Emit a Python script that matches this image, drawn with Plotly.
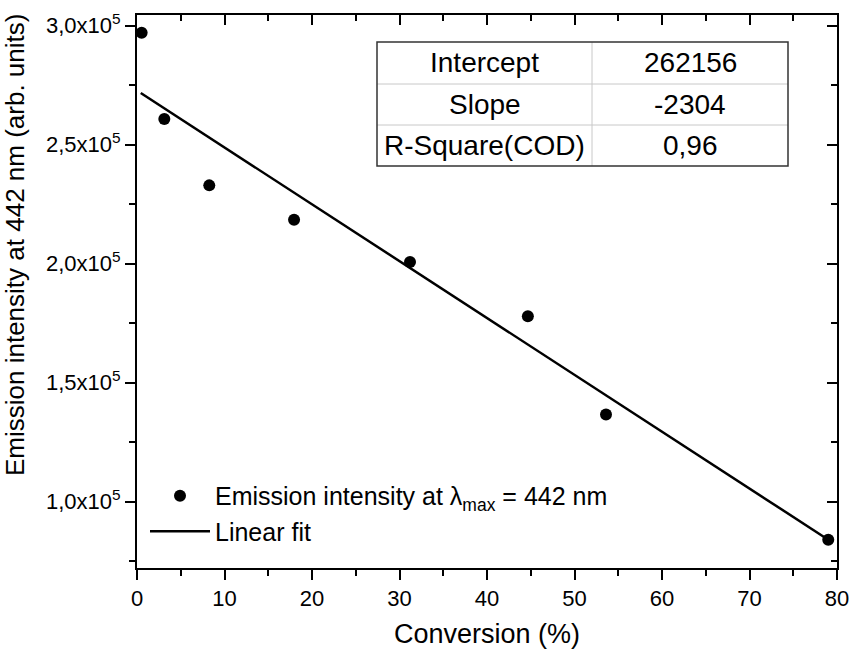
import plotly.graph_objects as go

# ---- data ----
conversion = [0.53, 3.12, 8.26, 17.95, 31.2, 44.67, 53.6, 79.0]
intensity = [297060, 260760, 232900, 218500, 200700, 177900, 136600, 84000]
fit_x = [0.43, 79.0]
fit_y = [271700, 84000]

y_tickvals = [100000, 150000, 200000, 250000, 300000]
y_ticktext = ["1,0x10<sup>5</sup>", "1,5x10<sup>5</sup>", "2,0x10<sup>5</sup>",
              "2,5x10<sup>5</sup>", "3,0x10<sup>5</sup>"]
x_tickvals = [0, 10, 20, 30, 40, 50, 60, 70, 80]

table_labels = ["Intercept", "Slope", "R-Square(COD)"]
table_values = ["262156", "-2304", "0,96"]

XR = [0, 80]
YR = [72100, 304500]

FONT = "Liberation Sans, Arial, sans-serif"

fig = go.Figure()
fig.add_trace(go.Scatter(
    x=conversion, y=intensity, mode="markers",
    name="Emission intensity at \u03bb<sub>max</sub> = 442 nm",
    marker=dict(color="black", size=12),
))
fig.add_trace(go.Scatter(
    x=fit_x, y=fit_y, mode="lines", name="Linear fit",
    line=dict(color="black", width=2.5),
))
# invisible trace for mirrored (inside-tick) axes
fig.add_trace(go.Scatter(x=[], y=[], xaxis="x2", yaxis="y2",
                         showlegend=False, hoverinfo="skip"))

FIG_W, FIG_H = 853, 650
# plot-area geometry in pixels
L, R, T, B = 137, 837, 15, 568
W, H = R - L, B - T


def px(xp):
    return (xp - L) / W


def py(yp):
    return (B - yp) / H


tx0, tx1, tsplit = 377, 788, 592
row_edges = [42, 84, 125, 166]

shapes = []
for yy in row_edges[1:-1]:
    shapes.append(dict(type="line", xref="paper", yref="paper",
                       x0=px(tx0), x1=px(tx1), y0=py(yy), y1=py(yy),
                       line=dict(color="#c8c8c8", width=1)))
shapes.append(dict(type="line", xref="paper", yref="paper",
                   x0=px(tsplit), x1=px(tsplit), y0=py(row_edges[0]), y1=py(row_edges[-1]),
                   line=dict(color="#c8c8c8", width=1)))
shapes.append(dict(type="rect", xref="paper", yref="paper",
                   x0=px(tx0), x1=px(tx1), y0=py(row_edges[-1]), y1=py(row_edges[0]),
                   line=dict(color="#333333", width=1.5)))

annotations = []
for i, (lab, val) in enumerate(zip(table_labels, table_values)):
    yc = (row_edges[i] + row_edges[i + 1]) / 2
    annotations.append(dict(xref="paper", yref="paper", x=px((tx0 + tsplit) / 2), y=py(yc),
                            text=lab, showarrow=False, xanchor="center", yanchor="middle",
                            font=dict(size=28, color="black", family=FONT)))
    annotations.append(dict(xref="paper", yref="paper", x=px((tsplit + tx1) / 2), y=py(yc),
                            text=val, showarrow=False, xanchor="center", yanchor="middle",
                            font=dict(size=28, color="black", family=FONT)))

# y-axis title (placed as annotation to match its off-centre position)
annotations.append(dict(xref="paper", yref="paper", x=px(15), y=py(245),
                        text="Emission intensity at 442 nm (arb. units)", textangle=-90,
                        showarrow=False, xanchor="center", yanchor="middle",
                        font=dict(size=26, color="black", family=FONT)))

axis_common = dict(showline=True, linecolor="black", linewidth=2, showgrid=False,
                   zeroline=False, tickcolor="black", tickwidth=2, automargin=False)

fig.update_layout(
    width=FIG_W, height=FIG_H,
    margin=dict(l=L, r=FIG_W - R, t=T, b=FIG_H - B, pad=0),
    paper_bgcolor="white", plot_bgcolor="white",
    font=dict(family=FONT, color="black", size=22),
    showlegend=True,
    legend=dict(x=px(145), y=0.172, xanchor="left", yanchor="top",
                bgcolor="rgba(0,0,0,0)", font=dict(size=25, family=FONT),
                tracegroupgap=0, itemwidth=60),
    xaxis=dict(range=XR, tickvals=x_tickvals, ticks="outside", ticklen=10,
               ticklabeloverflow="allow",
               minor=dict(ticks="outside", ticklen=6, dtick=5, tickwidth=2, tickcolor="black"),
               title=dict(text="Conversion (%)", font=dict(size=27), standoff=14),
               tickfont=dict(size=22), **axis_common),
    yaxis=dict(range=YR, tickvals=y_tickvals, ticktext=y_ticktext, ticks="outside", ticklen=10,
               ticklabeloverflow="allow",
               minor=dict(ticks="outside", ticklen=6, dtick=25000, tick0=0, tickwidth=2,
                          tickcolor="black"),
               tickfont=dict(size=22), **axis_common),
    xaxis2=dict(range=XR, overlaying="x", side="top", tickvals=x_tickvals, ticks="inside",
                ticklen=10, showticklabels=False,
                minor=dict(ticks="inside", ticklen=6, dtick=5, tickwidth=2, tickcolor="black"),
                **axis_common),
    yaxis2=dict(range=YR, overlaying="y", side="right", tickvals=y_tickvals, ticks="inside",
                ticklen=10, showticklabels=False,
                minor=dict(ticks="inside", ticklen=6, dtick=25000, tick0=0, tickwidth=2,
                           tickcolor="black"),
                **axis_common),
    shapes=shapes,
    annotations=annotations,
)

# remove the default 8px page margin so the figure fills the 853x650 window exactly
fig.write_html("out.html", config={"displayModeBar": False},
               post_script="document.body.style.margin='0';document.body.style.overflow='hidden';")
